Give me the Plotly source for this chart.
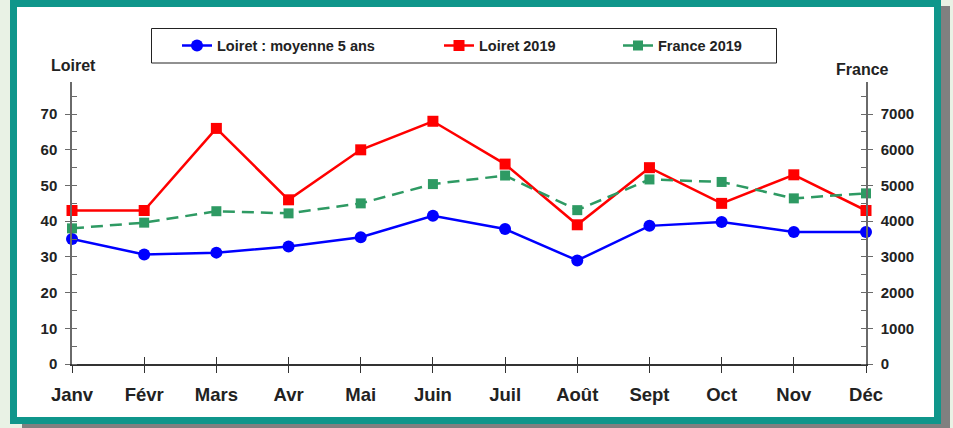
import plotly.graph_objects as go

months = ["Janv", "Févr", "Mars", "Avr", "Mai", "Juin", "Juil", "Août", "Sept", "Oct", "Nov", "Déc"]
loiret_moy5 = [35, 30.7, 31.2, 32.9, 35.5, 41.5, 37.8, 29, 38.7, 39.8, 37, 37]
loiret_2019 = [43, 43, 66, 46, 60, 68, 56, 39, 55, 45, 53, 43]
france_2019 = [3800, 3960, 4280, 4220, 4500, 5040, 5280, 4310, 5170, 5100, 4640, 4780]

W, H = 953, 428
L, R, T, B = 72, 87, 82, 64
PW, PH = W - L - R, H - T - B

def px(x):
    return (x - L) / PW

def py(y):
    return (H - B - y) / PH

FONT = "Liberation Sans, Arial, sans-serif"
TXT = "#222222"
AX = "#6a6a6a"

fig = go.Figure()
fig.add_trace(go.Scatter(
    x=months, y=loiret_moy5, name="Loiret : moyenne 5 ans", mode="lines+markers",
    line=dict(color="#0000ff", width=2.5), marker=dict(symbol="circle", size=12, color="#0000ff"),
    cliponaxis=False, legend="legend"))
fig.add_trace(go.Scatter(
    x=months, y=loiret_2019, name="Loiret 2019", mode="lines+markers",
    line=dict(color="#ff0000", width=2.5), marker=dict(symbol="square", size=11, color="#ff0000"),
    cliponaxis=False, legend="legend2"))
fig.add_trace(go.Scatter(
    x=months, y=france_2019, name="France 2019", mode="lines+markers", yaxis="y2",
    line=dict(color="#2e9a63", width=2.5, dash="12px,7px"),
    marker=dict(symbol="square", size=10, color="#2e9a63"),
    cliponaxis=False, legend="legend3"))
# invisible helpers for crossing tick marks
fig.add_trace(go.Scatter(x=[], y=[], xaxis="x2", yaxis="y3", showlegend=False, hoverinfo="skip"))
fig.add_trace(go.Scatter(x=[], y=[], xaxis="x2", yaxis="y4", showlegend=False, hoverinfo="skip"))

tickfont = dict(family=FONT, size=15, color=TXT, weight="bold")

fig.update_layout(
    width=W, height=H,
    margin=dict(l=L, r=R, t=T, b=B),
    paper_bgcolor="#e9f2e5",
    plot_bgcolor="rgba(0,0,0,0)",
    showlegend=True,
    xaxis=dict(
        type="category", range=[0, 11], showgrid=False, zeroline=False,
        showline=True, linecolor="#333333", linewidth=1.5,
        ticks="outside", ticklen=7, tickcolor="#333333", tickwidth=1,
        tickfont=dict(family=FONT, size=18.5, color=TXT, weight="bold"),
        ticklabelstandoff=6,
    ),
    xaxis2=dict(
        type="category", range=[0, 11], overlaying="x", anchor="y", matches="x",
        showgrid=False, zeroline=False, showline=False, showticklabels=False,
        ticks="inside", ticklen=7, tickcolor="#333333", tickwidth=1,
    ),
    yaxis=dict(
        range=[0, 79], dtick=10, tick0=0, showgrid=False, zeroline=False,
        showline=True, linecolor=AX, linewidth=1.5,
        ticks="outside", ticklen=5, tickcolor=AX, tickwidth=1,
        minor=dict(dtick=5, ticks="inside", ticklen=5, tickcolor=AX, showgrid=False),
        tickfont=tickfont, ticklabelstandoff=5,
    ),
    yaxis3=dict(
        range=[0, 79], dtick=10, tick0=0, overlaying="y", anchor="x", side="left",
        showgrid=False, zeroline=False, showline=False, showticklabels=False,
        ticks="inside", ticklen=5, tickcolor=AX, tickwidth=1,
    ),
    yaxis2=dict(
        range=[0, 7900], dtick=1000, tick0=0, overlaying="y", side="right", anchor="x",
        showgrid=False, zeroline=False,
        showline=True, linecolor=AX, linewidth=1.5,
        ticks="outside", ticklen=5, tickcolor=AX, tickwidth=1,
        minor=dict(dtick=500, ticks="inside", ticklen=5, tickcolor=AX, showgrid=False),
        tickfont=tickfont, ticklabelstandoff=5,
    ),
    yaxis4=dict(
        range=[0, 7900], dtick=1000, tick0=0, overlaying="y", side="right", anchor="x",
        showgrid=False, zeroline=False, showline=False, showticklabels=False,
        ticks="inside", ticklen=5, tickcolor=AX, tickwidth=1,
    ),
)

legend_common = dict(
    orientation="h", xref="container", yref="container", yanchor="middle", xanchor="left",
    bgcolor="rgba(0,0,0,0)", borderwidth=0,
    font=dict(family=FONT, size=14.5, color=TXT, weight="bold"),
)
fig.update_layout(
    legend=dict(legend_common, x=177 / W, y=1 - 45.5 / H),
    legend2=dict(legend_common, x=439 / W, y=1 - 45.5 / H),
    legend3=dict(legend_common, x=618 / W, y=1 - 45.5 / H),
)

shapes = [
    # shadow
    dict(type="rect", xref="paper", yref="paper", x0=px(22), x1=px(950), y0=py(428), y1=py(6),
         fillcolor="#808080", line=dict(width=0), layer="below"),
    # teal frame
    dict(type="rect", xref="paper", yref="paper", x0=px(13.5), x1=px(937.5), y0=py(420.5), y1=py(3.5),
         fillcolor="white", line=dict(color="#0f968b", width=7), layer="below"),
    # legend box
    dict(type="rect", xref="paper", yref="paper", x0=px(151.5), x1=px(776.5), y0=py(63), y1=py(28.5),
         fillcolor="white", line=dict(color="#222222", width=1), layer="below"),
]
fig.update_layout(shapes=shapes)

fig.add_annotation(text="Loiret", xref="paper", yref="paper", x=px(73.5), y=py(66),
                   showarrow=False, xanchor="center", yanchor="middle",
                   font=dict(family=FONT, size=16, color=TXT, weight="bold"))
fig.add_annotation(text="France", xref="paper", yref="paper", x=px(862), y=py(69),
                   showarrow=False, xanchor="center", yanchor="middle",
                   font=dict(family=FONT, size=16, color=TXT, weight="bold"))

fig.write_html("out.html", config={"displayModeBar": False},
               post_script="document.body.style.margin='0px';")
